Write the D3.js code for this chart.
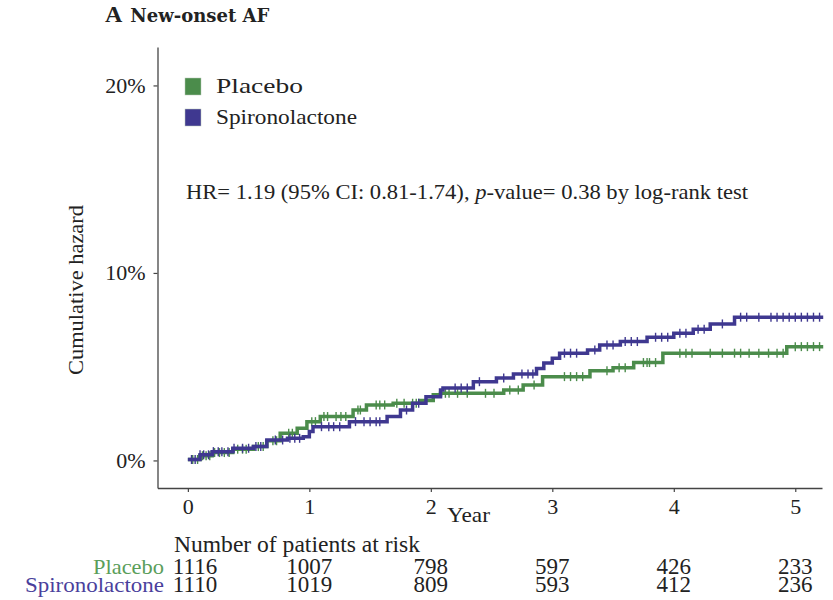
<!DOCTYPE html>
<html>
<head>
<meta charset="utf-8">
<script src="https://cdn.jsdelivr.net/npm/d3@7"></script>
<style>
  body { margin: 0; background: #fff; }
  text { font-family: "Liberation Serif", serif; fill: #222; }
</style>
</head>
<body>
<div id="chart"></div>
<script>
// time points (years) and cumulative hazard (%) for each arm
var placeboTime = [0, 0.1, 0.2, 0.37, 0.54, 0.65, 0.76, 0.9, 0.98, 1.09, 1.36, 1.47, 1.69, 1.91, 2.02, 2.08, 2.6, 2.76, 2.92, 3.31, 3.5, 3.67, 3.91, 4.93, 5.23];
var placeboHaz = [0.05, 0.25, 0.42, 0.6, 0.74, 1.05, 1.45, 1.72, 2.07, 2.34, 2.69, 2.96, 3.05, 3.2, 3.5, 3.58, 3.76, 4.03, 4.47, 4.79, 4.95, 5.22, 5.72, 6.07, 6.07];
var spiroTime = [0, 0.1, 0.2, 0.37, 0.54, 0.65, 0.82, 0.95, 1.0, 1.03, 1.33, 1.64, 1.75, 1.85, 1.96, 2.08, 2.1, 2.35, 2.54, 2.68, 2.87, 2.93, 3.0, 3.06, 3.29, 3.39, 3.56, 3.78, 4.0, 4.16, 4.3, 4.5, 5.23];
var spiroHaz = [0.05, 0.3, 0.47, 0.65, 0.74, 1.09, 1.18, 1.27, 1.54, 1.8, 2.07, 2.34, 2.69, 3.05, 3.4, 3.76, 3.87, 4.2, 4.4, 4.61, 4.9, 5.2, 5.45, 5.72, 5.89, 6.16, 6.34, 6.57, 6.78, 7.0, 7.28, 7.64, 7.64];

// censoring marks (years)
var placeboCensor = [0.04, 0.08, 0.12, 0.15, 0.18, 0.22, 0.26, 0.3, 0.34, 0.41, 0.45, 0.48, 0.58, 0.62, 0.7, 0.73, 0.83, 0.86, 1.02, 1.05, 1.12, 1.15, 1.22, 1.26, 1.3, 1.4, 1.42, 1.55, 1.58, 1.62, 1.72, 1.78, 1.85, 1.88, 2.12, 2.15, 2.22, 2.3, 2.45, 2.52, 2.65, 2.72, 2.85, 3.1, 3.15, 3.2, 3.25, 3.45, 3.55, 3.6, 3.75, 3.78, 3.8, 3.85, 4.05, 4.1, 4.15, 4.3, 4.4, 4.5, 4.55, 4.62, 4.7, 4.78, 4.85, 4.9, 5.0, 5.05, 5.1, 5.15, 5.2];
var spiroCensor = [0.03, 0.06, 0.1, 0.13, 0.17, 0.21, 0.25, 0.28, 0.33, 0.38, 0.45, 0.5, 0.56, 0.6, 0.72, 0.78, 0.84, 0.88, 0.92, 1.1, 1.16, 1.2, 1.25, 1.38, 1.45, 1.5, 1.55, 1.58, 1.8, 1.9, 2.2, 2.25, 2.3, 2.4, 2.6, 2.75, 2.8, 2.84, 3.1, 3.15, 3.2, 3.35, 3.45, 3.5, 3.6, 3.65, 3.7, 3.85, 3.9, 3.95, 4.05, 4.1, 4.2, 4.25, 4.4, 4.55, 4.6, 4.7, 4.8, 4.85, 4.9, 4.95, 5.0, 5.05, 5.1, 5.15, 5.2];

var groups = ["Placebo", "Spironolactone"];
var years = [0, 1, 2, 3, 4, 5];
var yTicks = [0, 10, 20];
var placeboRisk = [1116, 1007, 798, 597, 426, 233];
var spiroRisk = [1110, 1019, 809, 593, 412, 236];

var colors = { Placebo: "#4b8c4b", Spironolactone: "#3f3890" };
var tableColors = { Placebo: "#5a9e5a", Spironolactone: "#4a3f9c" };

var svg = d3.select("#chart").append("svg")
  .attr("width", 833)
  .attr("height", 600);

var x = d3.scaleLinear().domain([-0.25, 5.22]).range([157.5, 822]);
var y = d3.scaleLinear().domain([-1.47, 22.05]).range([488, 47]);

// title
var title = svg.append("text").attr("x", 105).attr("y", 22).attr("font-weight", "bold");
title.append("tspan").attr("font-size", 24).text("A");
title.append("tspan").attr("dx", 8).attr("font-family", "DejaVu Serif").attr("font-size", 18).text("New-onset AF");

// axes
var yAxis = svg.append("g")
  .attr("transform", "translate(157.5,0)")
  .call(d3.axisLeft(y).tickValues(yTicks).tickSize(4).tickSizeOuter(0).tickPadding(8).tickFormat(d => d + "%"));
var xAxis = svg.append("g")
  .attr("transform", "translate(0,488)")
  .call(d3.axisBottom(x).tickValues(years).tickSize(4).tickSizeOuter(0).tickPadding(6).tickFormat(d3.format("d")));

[yAxis, xAxis].forEach(function (g) {
  g.select(".domain").attr("stroke", "#444").attr("stroke-width", 1.3);
  g.selectAll(".tick line").attr("stroke", "#444").attr("stroke-width", 1.2);
  g.selectAll(".tick text").attr("font-size", 22).attr("fill", "#222");
});

svg.append("text")
  .attr("transform", "translate(83,290) rotate(-90)")
  .attr("text-anchor", "middle")
  .attr("font-size", 22)
  .attr("textLength", 170)
  .attr("lengthAdjust", "spacingAndGlyphs")
  .text("Cumulative hazard");

svg.append("text")
  .attr("x", 447).attr("y", 522)
  .attr("font-size", 22)
  .attr("textLength", 43)
  .attr("lengthAdjust", "spacingAndGlyphs")
  .text("Year");

// curves
var series = [
  { name: "Placebo", time: placeboTime, haz: placeboHaz, censor: placeboCensor },
  { name: "Spironolactone", time: spiroTime, haz: spiroHaz, censor: spiroCensor }
];

var line = d3.line()
  .x(d => x(d[0]))
  .y(d => y(d[1]))
  .curve(d3.curveStepAfter);

function hazAt(s, t) {
  var i = d3.bisectRight(s.time, t) - 1;
  return s.haz[Math.max(0, i)];
}

series.forEach(function (s) {
  var pts = s.time.map((t, i) => [t, s.haz[i]]);
  svg.append("path")
    .datum(pts)
    .attr("fill", "none")
    .attr("stroke", colors[s.name])
    .attr("stroke-width", 3.5)
    .attr("d", line);

  svg.selectAll(".c-" + s.name)
    .data(s.censor)
    .enter().append("line")
    .attr("class", "c-" + s.name)
    .attr("x1", d => x(d)).attr("x2", d => x(d))
    .attr("y1", d => y(hazAt(s, d)) - 4.5)
    .attr("y2", d => y(hazAt(s, d)) + 4.5)
    .attr("stroke", colors[s.name])
    .attr("stroke-width", 1.4);
});

// legend
var legend = svg.selectAll(".legend")
  .data(groups)
  .enter().append("g")
  .attr("class", "legend")
  .attr("transform", (d, i) => "translate(185," + (78 + i * 31) + ")");

legend.append("rect")
  .attr("width", 16).attr("height", 17)
  .attr("fill", d => colors[d])
  .attr("stroke", "#b8c8b8")
  .attr("stroke-width", 0.5);

legend.append("text")
  .attr("x", 31).attr("y", 15)
  .attr("font-size", 22)
  .attr("textLength", (d, i) => [87, 141][i])
  .attr("lengthAdjust", "spacingAndGlyphs")
  .text(d => d);

// statistics annotation
var stat = svg.append("text")
  .attr("x", 186).attr("y", 199)
  .attr("font-size", 21)
  .attr("textLength", 562)
  .attr("lengthAdjust", "spacingAndGlyphs");
stat.append("tspan").text("HR= 1.19 (95% CI: 0.81-1.74), ");
stat.append("tspan").attr("font-style", "italic").text("p");
stat.append("tspan").text("-value= 0.38 by log-rank test");

// risk table
svg.append("text")
  .attr("x", 174).attr("y", 551.5)
  .attr("font-size", 23)
  .attr("textLength", 246)
  .attr("lengthAdjust", "spacingAndGlyphs")
  .text("Number of patients at risk");

var riskRows = [
  { name: "Placebo", values: placeboRisk, yPos: 574, labelLen: 71 },
  { name: "Spironolactone", values: spiroRisk, yPos: 591.5, labelLen: 139 }
];

riskRows.forEach(function (r) {
  svg.append("text")
    .attr("x", 164 - r.labelLen).attr("y", r.yPos)
    .attr("font-size", 22)
    .attr("textLength", r.labelLen)
    .attr("lengthAdjust", "spacingAndGlyphs")
    .style("fill", tableColors[r.name])
    .text(r.name);

  svg.selectAll(".risk-" + r.name)
    .data(r.values)
    .enter().append("text")
    .attr("x", (d, i) => i === 0 ? x(years[i]) - 15 : x(years[i]))
    .attr("y", r.yPos)
    .attr("text-anchor", (d, i) => i === 0 ? "start" : "middle")
    .attr("font-size", 23)
    .text(d => d);
});
</script>
</body>
</html>
